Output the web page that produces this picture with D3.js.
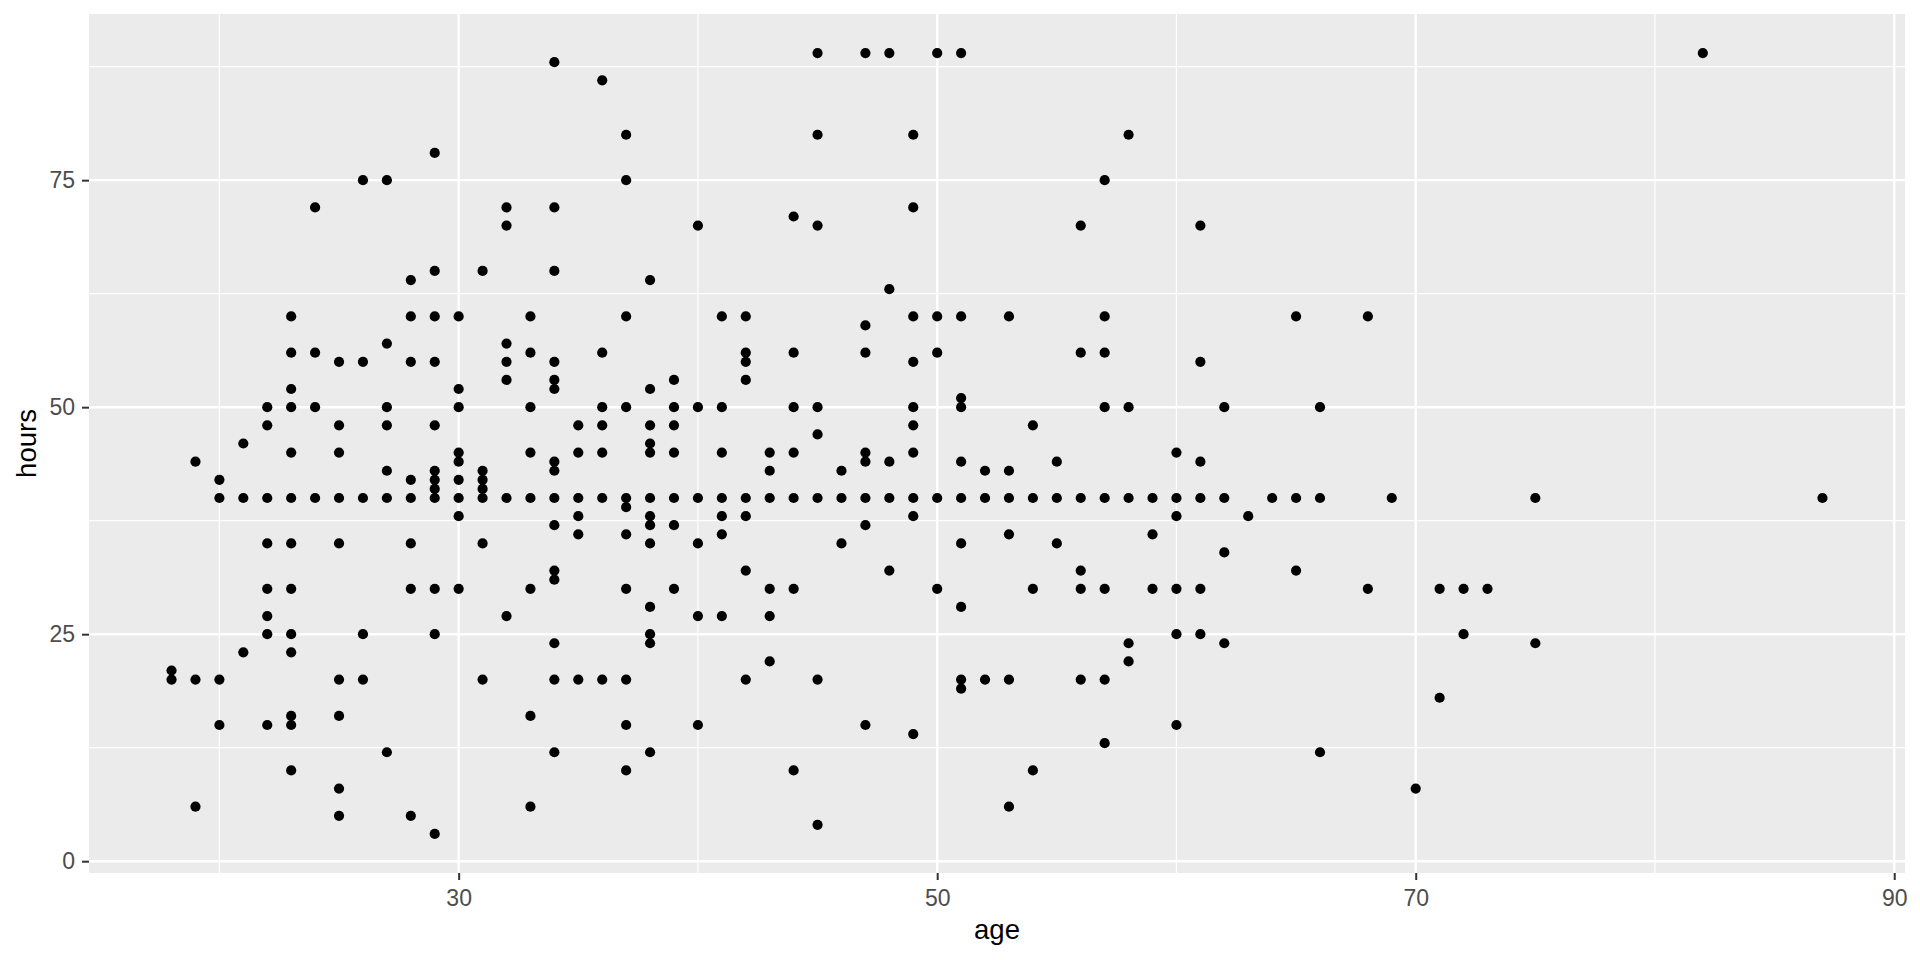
<!DOCTYPE html>
<html>
<head>
<meta charset="utf-8">
<script src="https://cdn.jsdelivr.net/npm/d3@7"></script>
<style>
  body { margin: 0; background: #ffffff; }
  svg { display: block; }
  text { font-family: "Liberation Sans", Arial, sans-serif; }
</style>
</head>
<body>
<div id="chart"></div>
<script>
// ages present in the data, and the hours values seen at each age
const ages = [18, 19, 20, 21, 22, 23, 24, 25, 26, 27, 28, 29, 30, 31, 32, 33, 34, 35, 36, 37,
  38, 39, 40, 41, 42, 43, 44, 45, 46, 47, 48, 49, 50, 51, 52, 53, 54, 55, 56, 57,
  58, 59, 60, 61, 62, 63, 64, 65, 66, 68, 69, 70, 71, 72, 73, 75, 82, 87];

const hoursByAge = [
  [21, 20],
  [44, 20, 6],
  [42, 40, 20, 15],
  [46, 40, 23],
  [50, 48, 40, 35, 30, 27, 25, 15],
  [60, 56, 52, 50, 45, 40, 35, 30, 25, 23, 16, 15, 10],
  [72, 56, 50, 40],
  [55, 48, 45, 40, 35, 20, 16, 8, 5],
  [75, 55, 40, 25, 20],
  [75, 57, 50, 48, 43, 40, 12],
  [64, 60, 55, 42, 40, 35, 30, 5],
  [78, 65, 60, 55, 48, 43, 42, 41, 40, 30, 25, 3],
  [60, 52, 50, 45, 44, 42, 40, 38, 30],
  [65, 43, 42, 41, 40, 35, 20],
  [72, 70, 57, 55, 53, 40, 27],
  [60, 56, 50, 45, 40, 30, 16, 6],
  [88, 72, 65, 55, 53, 52, 44, 43, 40, 37, 32, 31, 24, 20, 12],
  [48, 45, 40, 38, 36, 20],
  [86, 56, 50, 48, 45, 40, 20],
  [80, 75, 60, 50, 40, 39, 36, 30, 20, 15, 10],
  [64, 52, 48, 46, 45, 40, 38, 37, 35, 28, 25, 24, 12],
  [53, 50, 48, 45, 40, 37, 30],
  [70, 50, 40, 35, 27, 15],
  [60, 50, 45, 40, 38, 36, 27],
  [60, 56, 55, 53, 40, 38, 32, 20],
  [45, 43, 40, 30, 27, 22],
  [71, 56, 50, 45, 40, 30, 10],
  [89, 80, 70, 50, 47, 40, 20, 4],
  [43, 40, 35],
  [89, 59, 56, 45, 44, 40, 37, 15],
  [89, 63, 44, 40, 32],
  [80, 72, 60, 55, 50, 48, 45, 40, 38, 14],
  [89, 60, 56, 40, 30],
  [89, 60, 51, 50, 44, 40, 35, 28, 20, 19],
  [43, 40, 20],
  [60, 43, 40, 36, 20, 6],
  [48, 40, 30, 10],
  [44, 40, 35],
  [70, 56, 40, 32, 30, 20],
  [75, 60, 56, 50, 40, 30, 20, 13],
  [80, 50, 40, 24, 22],
  [40, 36, 30],
  [45, 40, 38, 30, 25, 15],
  [70, 55, 44, 40, 30, 25],
  [50, 40, 34, 24],
  [38],
  [40],
  [60, 40, 32],
  [50, 40, 12],
  [60, 30],
  [40],
  [8],
  [30, 18],
  [30, 25],
  [30],
  [40, 24],
  [89],
  [40]
];

const xTicks = [30, 50, 70, 90];
const xMinor = [20, 40, 60, 80];
const yTicks = [0, 25, 50, 75];
const yMinor = [12.5, 37.5, 62.5, 87.5];

const xLabel = 'age';
const yLabel = 'hours';

// flatten into points
const points = [];
ages.forEach((a, i) => {
    hoursByAge[i].forEach(h => points.push({ age: a, hours: h }));
});

function drawChart() {
    const W = 1920, H = 960;
    const panel = { left: 89, right: 1905, top: 14, bottom: 873 };

    const svg = d3.select('#chart')
        .append('svg')
        .attr('width', W)
        .attr('height', H);

    // ggplot style 5% expansion of the data range
    const expand = ([lo, hi]) => {
        const pad = (hi - lo) * 0.05;
        return [lo - pad, hi + pad];
    };

    const x = d3.scaleLinear()
        .domain(expand(d3.extent(points, d => d.age)))
        .range([panel.left, panel.right]);

    const y = d3.scaleLinear()
        .domain(expand(d3.extent(points, d => d.hours)))
        .range([panel.bottom, panel.top]);

    // panel background
    svg.append('rect')
        .attr('x', panel.left)
        .attr('y', panel.top)
        .attr('width', panel.right - panel.left)
        .attr('height', panel.bottom - panel.top)
        .attr('fill', '#EBEBEB');

    const grid = svg.append('g');

    // minor grid
    grid.selectAll('.vminor').data(xMinor).enter().append('line')
        .attr('x1', d => x(d)).attr('x2', d => x(d))
        .attr('y1', panel.top).attr('y2', panel.bottom)
        .attr('stroke', '#ffffff').attr('stroke-width', 1.2);
    grid.selectAll('.hminor').data(yMinor).enter().append('line')
        .attr('y1', d => y(d)).attr('y2', d => y(d))
        .attr('x1', panel.left).attr('x2', panel.right)
        .attr('stroke', '#ffffff').attr('stroke-width', 1.2);

    // major grid
    grid.selectAll('.vmajor').data(xTicks).enter().append('line')
        .attr('x1', d => x(d)).attr('x2', d => x(d))
        .attr('y1', panel.top).attr('y2', panel.bottom)
        .attr('stroke', '#ffffff').attr('stroke-width', 2.4);
    grid.selectAll('.hmajor').data(yTicks).enter().append('line')
        .attr('y1', d => y(d)).attr('y2', d => y(d))
        .attr('x1', panel.left).attr('x2', panel.right)
        .attr('stroke', '#ffffff').attr('stroke-width', 2.4);

    // points
    svg.append('g')
        .selectAll('circle')
        .data(points)
        .enter()
        .append('circle')
        .attr('cx', d => x(d.age))
        .attr('cy', d => y(d.hours))
        .attr('r', 5.1)
        .attr('fill', '#000000');

    // axes
    const xAxis = svg.append('g')
        .attr('transform', `translate(0,${panel.bottom})`)
        .call(d3.axisBottom(x).tickValues(xTicks).tickSize(7).tickPadding(10));

    const yAxis = svg.append('g')
        .attr('transform', `translate(${panel.left},0)`)
        .call(d3.axisLeft(y).tickValues(yTicks).tickSize(7).tickPadding(7));

    [xAxis, yAxis].forEach(ax => {
        ax.select('.domain').remove();
        ax.selectAll('.tick line').attr('stroke', '#333333').attr('stroke-width', 2);
        ax.selectAll('.tick text')
            .attr('fill', '#4D4D4D')
            .style('font-size', '23px')
            .style('font-family', '"Liberation Sans", Arial, sans-serif');
    });

    // axis titles
    svg.append('text')
        .attr('x', (panel.left + panel.right) / 2)
        .attr('y', 939)
        .attr('text-anchor', 'middle')
        .style('font-size', '27.5px')
        .attr('fill', '#000000')
        .text(xLabel);

    svg.append('text')
        .attr('transform', `translate(36,${(panel.top + panel.bottom) / 2}) rotate(-90)`)
        .attr('text-anchor', 'middle')
        .style('font-size', '27.5px')
        .attr('fill', '#000000')
        .text(yLabel);
}

drawChart();
</script>
</body>
</html>
